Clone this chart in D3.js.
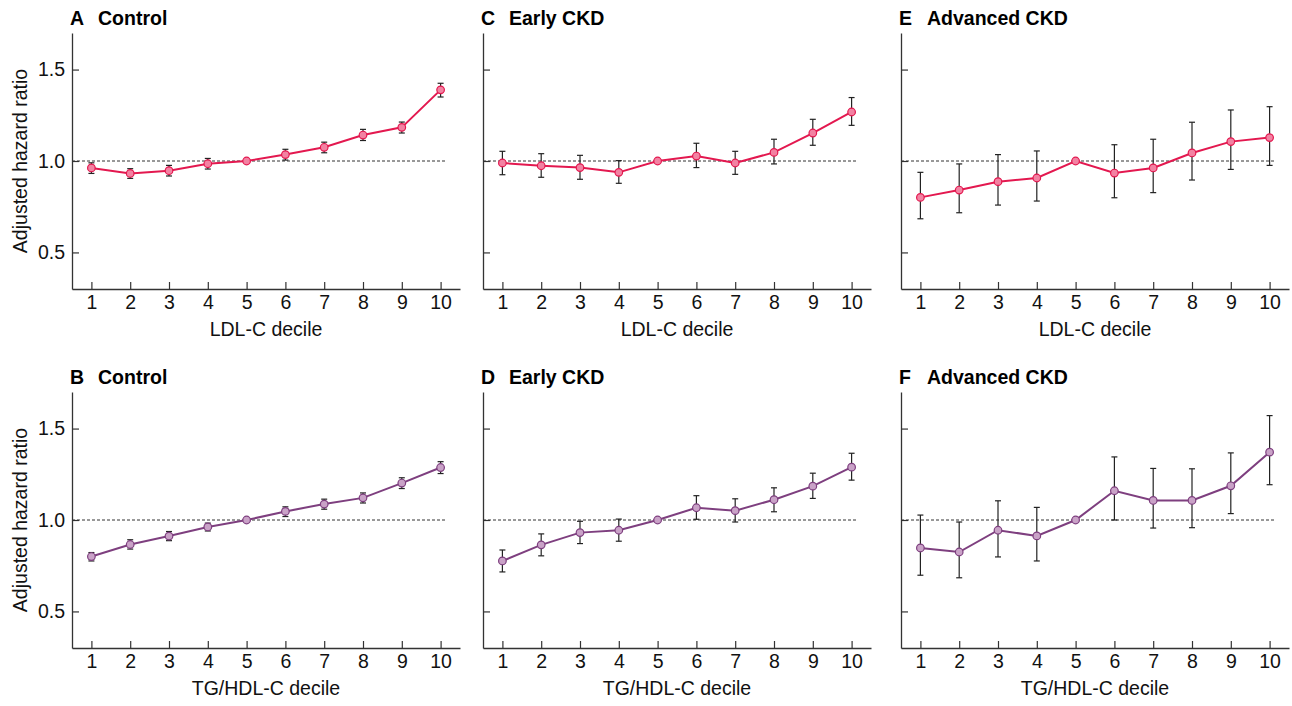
<!DOCTYPE html>
<html>
<head>
<meta charset="utf-8">
<script src="https://cdn.jsdelivr.net/npm/d3@7"></script>
<style>
  body { margin: 0; background: #fff; }
  svg { font-family: "Liberation Sans", Arial, sans-serif; }
</style>
</head>
<body>
<svg id="chart" width="1292" height="706"></svg>
<script>
const deciles = [1, 2, 3, 4, 5, 6, 7, 8, 9, 10];
const yTicks = [0.5, 1.0, 1.5];

// LDL-C decile (top row) — hazard ratio, lower and upper CI
const ldlControl   = [0.962, 0.932, 0.947, 0.985, 1.0, 1.035, 1.075, 1.142, 1.184, 1.389];
const ldlControlLo = [0.932, 0.905, 0.918, 0.956, null, 1.005, 1.045, 1.112, 1.153, 1.350];
const ldlControlHi = [0.990, 0.958, 0.976, 1.014, null, 1.064, 1.103, 1.173, 1.213, 1.425];

const ldlEarly   = [0.989, 0.974, 0.964, 0.938, 1.0, 1.027, 0.989, 1.047, 1.153, 1.268];
const ldlEarlyLo = [0.925, 0.911, 0.900, 0.878, null, 0.964, 0.927, 0.984, 1.086, 1.195];
const ldlEarlyHi = [1.053, 1.040, 1.031, 1.002, null, 1.097, 1.053, 1.119, 1.228, 1.347];

const ldlAdv   = [0.801, 0.841, 0.887, 0.907, 1.0, 0.934, 0.962, 1.044, 1.106, 1.128];
const ldlAdvLo = [0.684, 0.717, 0.759, 0.781, null, 0.799, 0.827, 0.896, 0.954, 0.976];
const ldlAdvHi = [0.938, 0.984, 1.035, 1.055, null, 1.089, 1.119, 1.212, 1.279, 1.297];

// TG/HDL-C decile (bottom row)
const tgControl   = [0.800, 0.866, 0.912, 0.962, 1.0, 1.047, 1.087, 1.121, 1.202, 1.287];
const tgControlLo = [0.776, 0.841, 0.887, 0.940, null, 1.019, 1.059, 1.093, 1.172, 1.254];
const tgControlHi = [0.822, 0.892, 0.937, 0.983, null, 1.072, 1.114, 1.148, 1.231, 1.319];

const tgEarly   = [0.776, 0.864, 0.931, 0.944, 1.0, 1.067, 1.051, 1.111, 1.185, 1.289];
const tgEarlyLo = [0.716, 0.804, 0.871, 0.884, null, 1.004, 0.989, 1.045, 1.118, 1.218];
const tgEarlyHi = [0.836, 0.924, 0.993, 1.005, null, 1.133, 1.116, 1.176, 1.256, 1.365];

const tgAdv   = [0.847, 0.825, 0.944, 0.913, 1.0, 1.160, 1.107, 1.107, 1.187, 1.371];
const tgAdvLo = [0.698, 0.684, 0.798, 0.776, null, 1.000, 0.956, 0.958, 1.035, 1.193];
const tgAdvHi = [1.027, 0.989, 1.105, 1.069, null, 1.345, 1.282, 1.280, 1.367, 1.571];

const RED = { line: "#e3184f", fill: "#f282a2" };
const PURPLE = { line: "#7e3f7f", fill: "#c9a2c7" };

const panels = [
  { letter: "A", title: "Control",      xl: 72,  top: 33,  hr: ldlControl, lo: ldlControlLo, hi: ldlControlHi, xlabel: "LDL-C decile", col: RED, yLabels: true },
  { letter: "C", title: "Early CKD",    xl: 483, top: 33,  hr: ldlEarly,   lo: ldlEarlyLo,   hi: ldlEarlyHi,   xlabel: "LDL-C decile", col: RED },
  { letter: "E", title: "Advanced CKD", xl: 901, top: 33,  hr: ldlAdv,     lo: ldlAdvLo,     hi: ldlAdvHi,     xlabel: "LDL-C decile", col: RED },
  { letter: "B", title: "Control",      xl: 72,  top: 392, hr: tgControl,  lo: tgControlLo,  hi: tgControlHi,  xlabel: "TG/HDL-C decile", col: PURPLE, yLabels: true },
  { letter: "D", title: "Early CKD",    xl: 483, top: 392, hr: tgEarly,    lo: tgEarlyLo,    hi: tgEarlyHi,    xlabel: "TG/HDL-C decile", col: PURPLE },
  { letter: "F", title: "Advanced CKD", xl: 901, top: 392, hr: tgAdv,      lo: tgAdvLo,      hi: tgAdvHi,      xlabel: "TG/HDL-C decile", col: PURPLE }
];

const pw = 388, ph = 256;
const fs = 19.5;
const svg = d3.select("#chart");

panels.forEach(p => {
  const g = svg.append("g").attr("transform", `translate(${p.xl},${p.top})`);

  const x = d3.scaleLinear().domain([0.5, 10.5]).range([0, pw]);
  const y = d3.scaleLinear().domain([0.3, 1.7]).range([ph, 0]);

  // axes, ticks pointing inward
  const xAxis = g.append("g")
    .attr("transform", `translate(0,${ph})`)
    .call(d3.axisBottom(x).tickValues(deciles).tickSizeInner(-7).tickSizeOuter(0).tickPadding(6));
  const yAxis = g.append("g")
    .call(d3.axisLeft(y).tickValues(yTicks).tickSizeInner(-7).tickSizeOuter(0).tickPadding(7)
      .tickFormat(p.yLabels ? d3.format(".1f") : () => ""));

  [xAxis, yAxis].forEach(a => {
    a.attr("font-size", null).attr("font-family", null);
    a.select(".domain").attr("stroke", "#333").attr("stroke-width", 1.3);
    a.selectAll(".tick line").attr("stroke", "#333").attr("stroke-width", 1.2);
    a.selectAll("text").attr("font-size", fs).attr("fill", "#111");
  });

  // reference line at HR = 1
  g.append("line")
    .attr("x1", 0).attr("x2", x(10.15))
    .attr("y1", y(1)).attr("y2", y(1))
    .attr("stroke", "#333").attr("stroke-width", 1)
    .attr("stroke-dasharray", "3,2");

  const rows = deciles.map((d, i) => ({ d, hr: p.hr[i], lo: p.lo[i], hi: p.hi[i] }));
  const withCI = rows.filter(r => r.lo != null);

  // error bars
  const eb = g.append("g").attr("stroke", "#222").attr("stroke-width", 1.2);
  eb.selectAll(".stem").data(withCI).join("line")
    .attr("x1", r => x(r.d)).attr("x2", r => x(r.d))
    .attr("y1", r => y(r.lo)).attr("y2", r => y(r.hi));
  eb.selectAll(".capLo").data(withCI).join("line")
    .attr("x1", r => x(r.d) - 3).attr("x2", r => x(r.d) + 3)
    .attr("y1", r => y(r.lo)).attr("y2", r => y(r.lo));
  eb.selectAll(".capHi").data(withCI).join("line")
    .attr("x1", r => x(r.d) - 3).attr("x2", r => x(r.d) + 3)
    .attr("y1", r => y(r.hi)).attr("y2", r => y(r.hi));

  const line = d3.line().x(r => x(r.d)).y(r => y(r.hr));
  g.append("path").datum(rows)
    .attr("d", line)
    .attr("fill", "none")
    .attr("stroke", p.col.line)
    .attr("stroke-width", 2);

  g.selectAll("circle").data(rows).join("circle")
    .attr("cx", r => x(r.d)).attr("cy", r => y(r.hr))
    .attr("r", 3.8)
    .attr("fill", p.col.fill)
    .attr("stroke", p.col.line)
    .attr("stroke-width", 1.2);

  // titles
  g.append("text")
    .attr("x", -2).attr("y", -8)
    .attr("font-size", fs).attr("font-weight", "bold")
    .text(p.letter);
  g.append("text")
    .attr("x", 26).attr("y", -8)
    .attr("font-size", fs).attr("font-weight", "bold")
    .text(p.title);

  g.append("text")
    .attr("x", pw / 2).attr("y", ph + 47)
    .attr("text-anchor", "middle")
    .attr("font-size", fs).attr("fill", "#111")
    .text(p.xlabel);

  if (p.yLabels) {
    g.append("text")
      .attr("transform", `translate(${27 - p.xl},${ph / 2}) rotate(-90)`)
      .attr("text-anchor", "middle")
      .attr("font-size", fs).attr("fill", "#111")
      .text("Adjusted hazard ratio");
  }
});
</script>
</body>
</html>
